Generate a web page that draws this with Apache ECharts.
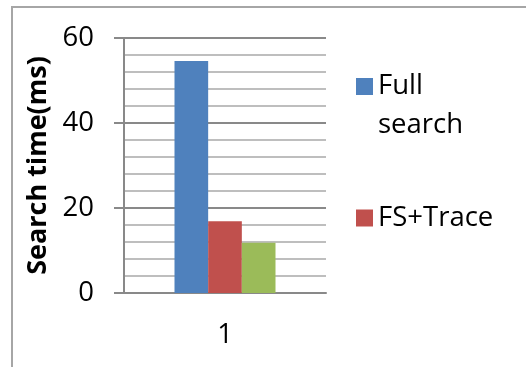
<!DOCTYPE html>
<html>
<head>
<meta charset="utf-8">
<script src="https://cdn.jsdelivr.net/npm/echarts@6/dist/echarts.min.js"></script>
<style>
  html, body { margin: 0; padding: 0; background: #fff; }
  #chart { width: 526px; height: 367px; }
</style>
</head>
<body>
<div id="chart"></div>
<script>
// Search time per method, single test case
const categories = ['1'];
const fullSearch = [54.6];
const fsTrace = [16.9];
const thirdMethod = [11.8];
const yTicks = { min: 0, max: 60, step: 20 };

const FONT = '"Open Sans", "Noto Sans", sans-serif';
const chart = echarts.init(document.getElementById('chart'), null, { renderer: 'canvas' });

chart.setOption({
  animation: false,
  backgroundColor: '#ffffff',
  grid: { left: 124, right: 200, top: 38, bottom: 74, containLabel: false },
  graphic: [{
    type: 'rect',
    shape: { x: 12, y: 7, width: 700, height: 500 },
    style: { fill: 'none', stroke: '#a6a6a6', lineWidth: 2 },
    silent: true
  }],
  legend: [{
    data: ['Full search'],
    left: 356, top: 28, padding: 0,
    itemWidth: 17, itemHeight: 17, itemGap: 0,
    icon: 'rect',
    // blank first line keeps the swatch level with "Full"
    formatter: () => ' \nFull\nsearch',
    textStyle: { fontFamily: FONT, fontSize: 27.5, color: '#000', lineHeight: 39 }
  }, {
    data: ['FS+Trace'],
    left: 356, top: 198.5, padding: 0,
    itemWidth: 17, itemHeight: 17,
    icon: 'rect',
    textStyle: { fontFamily: FONT, fontSize: 27.5, color: '#000', lineHeight: 39 }
  }],
  xAxis: {
    type: 'category',
    data: categories,
    axisLine: { show: true, lineStyle: { color: '#898989', width: 2 } },
    axisTick: { show: false },
    axisLabel: { fontFamily: FONT, fontSize: 27.5, color: '#000', margin: 28 }
  },
  yAxis: {
    type: 'value',
    min: yTicks.min, max: yTicks.max, interval: yTicks.step,
    name: 'Search time(ms)',
    nameLocation: 'middle',
    nameGap: 72,
    nameTextStyle: { fontFamily: FONT, fontSize: 27, fontWeight: 'bold', color: '#000' },
    axisLine: { show: true, lineStyle: { color: '#898989', width: 2 } },
    axisTick: { show: true, inside: false, length: 10, lineStyle: { color: '#898989', width: 2 } },
    axisLabel: { fontFamily: FONT, fontSize: 27.5, color: '#000', margin: 30 },
    splitLine: { show: true, lineStyle: { color: '#898989', width: 2 } },
    minorTick: { show: false, splitNumber: 5 },
    minorSplitLine: { show: true, lineStyle: { color: '#bebebe', width: 2 } }
  },
  series: [{
    name: 'Full search', type: 'bar', data: fullSearch,
    itemStyle: { color: '#4f81bd' },
    barGap: '0%', barCategoryGap: '50%'
  }, {
    name: 'FS+Trace', type: 'bar', data: fsTrace,
    itemStyle: { color: '#c0504d' }
  }, {
    name: 'Series 3', type: 'bar', data: thirdMethod,
    itemStyle: { color: '#9bbb59' }
  }]
});
</script>
</body>
</html>
